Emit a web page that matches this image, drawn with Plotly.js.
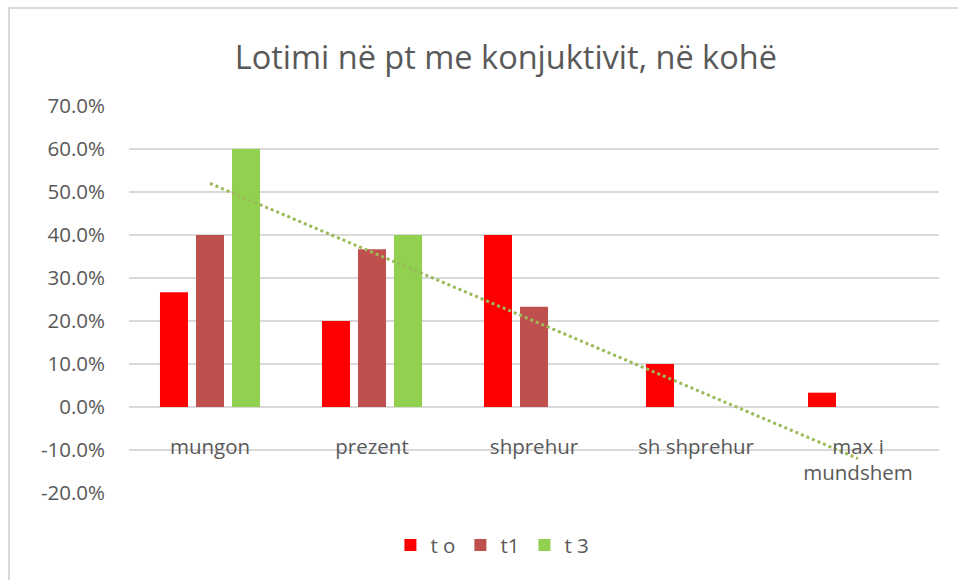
<!DOCTYPE html>
<html>
<head>
<meta charset="utf-8">
<script src="https://cdn.plot.ly/plotly-3.0.1.min.js"></script>
<style>
  html, body { margin: 0; padding: 0; background: #fff; }
  #wrap { position: relative; width: 958px; height: 580px; overflow: hidden; }
  #frame { position: absolute; left: 8px; top: 7px; width: 1000px; height: 700px;
           border-top: 2px solid #D9D9D9; border-left: 2px solid #D9D9D9; pointer-events: none; }
  #chart { position: absolute; left: 0; top: 0; width: 958px; height: 580px; }
</style>
</head>
<body>
<div id="wrap">
  <div id="chart"></div>
  <div id="frame"></div>
</div>
<script>
const categories = ['mungon', 'prezent', 'shprehur', 'sh shprehur', 'max i<br>mundshem'];
const seriesNames = ['t o', 't1', 't 3'];
const tO = [0.2667, 0.2, 0.4, 0.1, 0.0333];
const t1 = [0.4, 0.3667, 0.2333, 0, 0];
const t3 = [0.6, 0.4, 0, 0, 0];
const colors = ['#FF0000', '#C0504D', '#92D050'];
const trendColor = '#9BBB59';
const yTicks = [-0.2, -0.1, 0, 0.1, 0.2, 0.3, 0.4, 0.5, 0.6, 0.7];
const yTickText = yTicks.map(v => (v * 100).toFixed(1) + '%');

// linear least-squares trendline of series "t 3" (as Excel computes it)
function linearTrend(vals) {
  const n = vals.length;
  const xs = vals.map((_, i) => i + 1);
  const mx = xs.reduce((a, b) => a + b, 0) / n;
  const my = vals.reduce((a, b) => a + b, 0) / n;
  let sxy = 0, sxx = 0;
  for (let i = 0; i < n; i++) { sxy += (xs[i] - mx) * (vals[i] - my); sxx += (xs[i] - mx) ** 2; }
  const slope = sxy / sxx;
  return xs.map(x => my + slope * (x - mx));
}
const trend = linearTrend(t3);

const font = 'Open Sans, sans-serif';
const grey = '#595959';

const data = [
  { type: 'bar', name: seriesNames[0], x: categories, y: tO, marker: { color: colors[0] } },
  { type: 'bar', name: seriesNames[1], x: categories, y: t1, marker: { color: colors[1] } },
  { type: 'bar', name: seriesNames[2], x: categories, y: t3, marker: { color: colors[2] } },
  { type: 'scatter', mode: 'lines', x: categories, y: trend, showlegend: false,
    line: { color: trendColor, width: 3, dash: 'dot' }, hoverinfo: 'skip' }
];

const layout = {
  width: 958, height: 580,
  margin: { l: 129, r: 19, t: 106, b: 87 },
  paper_bgcolor: 'rgba(0,0,0,0)', plot_bgcolor: 'rgba(0,0,0,0)',
  title: { text: 'Lotimi në pt me konjuktivit, në kohë', font: { family: font, size: 32.5, color: grey },
           x: 0.528, xref: 'container', xanchor: 'center', y: 0.9, yref: 'container', yanchor: 'middle' },
  barmode: 'group', bargap: 0.333, bargroupgap: 0.222,
  xaxis: { type: 'category', anchor: 'free', position: 2 / 9, showgrid: false, showline: false,
           ticks: '', zeroline: false, tickfont: { family: font, size: 20.5, color: grey },
           ticklabelstandoff: 25, tickangle: 0 },
  yaxis: { range: [-0.2, 0.7], tickvals: yTicks, ticktext: yTickText, showgrid: true, gridcolor: '#D9D9D9',
           gridwidth: 1.3, zeroline: true, zerolinecolor: '#D9D9D9', zerolinewidth: 1.3, showline: false,
           ticks: '', tickfont: { family: font, size: 20.5, color: grey }, ticklabelstandoff: 23 },
  legend: { orientation: 'h', x: 0.514, xref: 'container', xanchor: 'center', y: 0.06, yref: 'container', yanchor: 'middle',
            font: { family: font, size: 20.5, color: grey }, itemwidth: 30 },
  showlegend: true
};

Plotly.newPlot('chart', data, layout, { displayModeBar: false, staticPlot: true });
</script>
</body>
</html>
